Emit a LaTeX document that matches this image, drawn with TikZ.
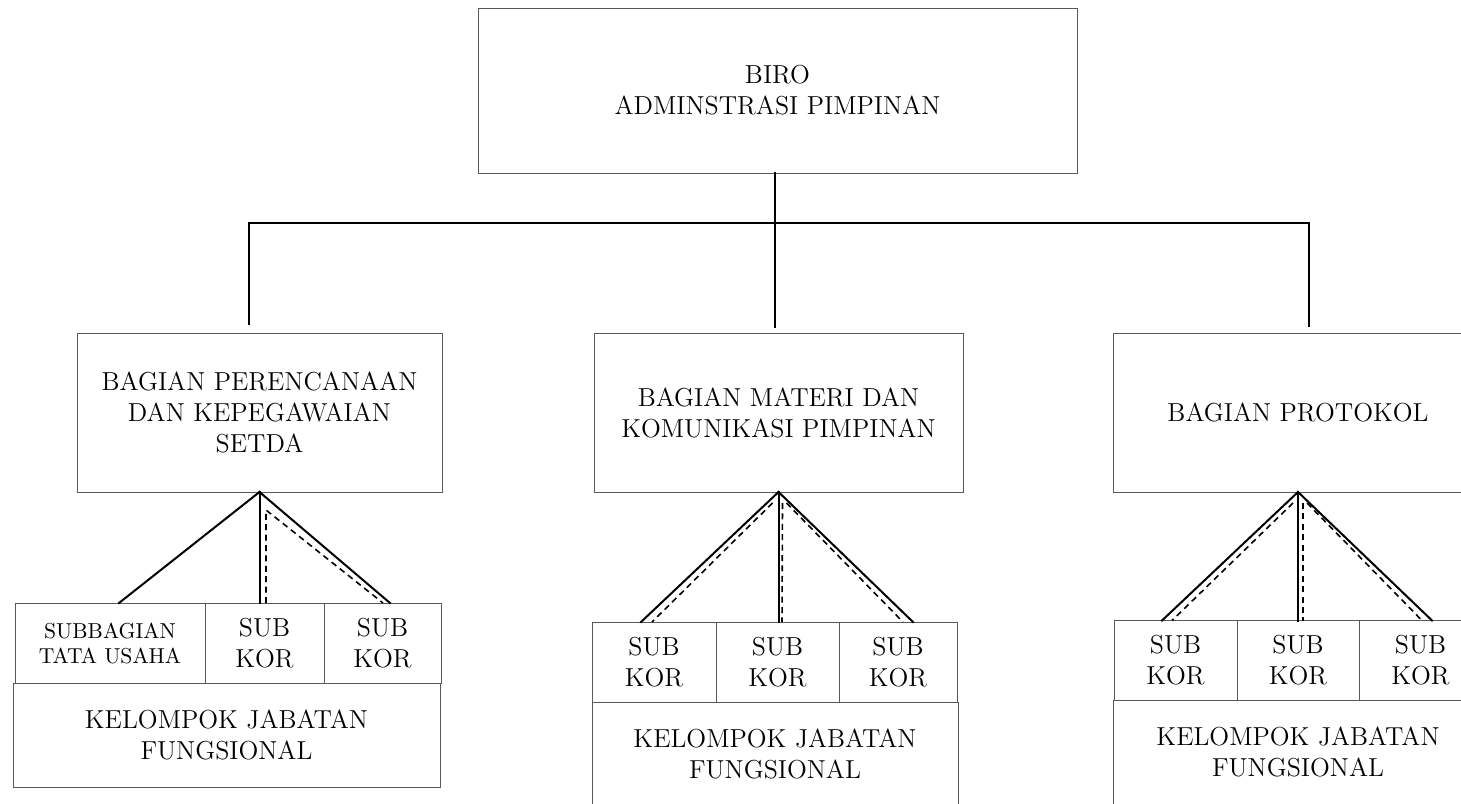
\documentclass[tikz,border=0pt]{standalone}
\usepackage{tikz}
\usetikzlibrary{positioning,calc}

\begin{document}
\begin{tikzpicture}[x=0.5pt, y=-0.5pt,
    box/.style = {draw=black!65, line width=0.5pt, align=center, inner sep=0pt, outer sep=0pt, font=\fontsize{13}{15.5}\selectfont},
    unit/.style = {box, minimum height=79.5pt},
    sub/.style = {box, minimum height=40pt},
    group/.style = {box, minimum height=52pt},
    conn/.style = {line width=1pt, line cap=rect},
    dashline/.style = {line width=0.8pt, dash pattern=on 3pt off 2.2pt}]
    \useasboundingbox (0,0) rectangle (1461,803);

    \node[box, minimum width=299.5pt, minimum height=82.5pt] (biro) at (777.5,90.5) {BIRO\\ADMINSTRASI PIMPINAN};
    \node[unit, minimum width=182.5pt] (perenc)   at (259.5,412.5) {BAGIAN PERENCANAAN\\DAN KEPEGAWAIAN\\SETDA};
    \node[unit, minimum width=184.5pt] (materi)   at (778.5,412.5) {BAGIAN MATERI DAN\\KOMUNIKASI PIMPINAN};
    \node[unit, minimum width=185pt]   (protokol) at (1298,412.5)  {BAGIAN PROTOKOL};

    \node[sub, minimum width=95pt, font=\fontsize{10.8}{12.5}\selectfont] (tu) at (110,643) {SUBBAGIAN\\TATA USAHA};
    \node[sub, minimum width=59.5pt, right=0pt of tu]  (skA) {SUB\\KOR};
    \node[sub, minimum width=58.5pt, right=0pt of skA] (skB) {SUB\\KOR};
    \node[group, minimum width=213.5pt] (kjA) at (226.5,735) {KELOMPOK JABATAN\\FUNGSIONAL};

    \node[sub, minimum width=62pt] (skC) at (654,662) {SUB\\KOR};
    \node[sub, minimum width=61.5pt, right=0pt of skC] (skD) {SUB\\KOR};
    \node[sub, minimum width=59pt,   right=0pt of skD] (skE) {SUB\\KOR};
    \node[group, minimum width=183pt] (kjB) at (775,754) {KELOMPOK JABATAN\\FUNGSIONAL};

    \node[sub, minimum width=61.5pt] (skF) at (1175.5,660.5) {SUB\\KOR};
    \node[sub, minimum width=61pt,   right=0pt of skF] (skG) {SUB\\KOR};
    \node[sub, minimum width=61.5pt, right=0pt of skG] (skH) {SUB\\KOR};
    \node[group, minimum width=185pt] (kjC) at (1298,752) {KELOMPOK JABATAN\\FUNGSIONAL};

    \coordinate (jl) at (249,223);
    \coordinate (jm) at (775,223);
    \coordinate (jr) at (1309,223);
    \draw[conn] (biro.south -| jm) -- (jm);
    \draw[conn] ($(perenc.north -| jl)+(0,-9)$) -- (jl) -- (jr) -- ($(protokol.north -| jr)+(0,-7)$);
    \draw[conn] (jm) -- ($(materi.north -| jm)+(0,-6)$);

    \draw[conn] (perenc.south) -- ($(tu.north)+(9,0)$);
    \draw[conn] (perenc.south) -- (perenc.south |- skA.north);
    \draw[conn] (perenc.south) -- ($(skB.north)+(7.5,0)$);
    \draw[dashline] ($(skA.north)+(1.5,0)$) -- ($(perenc.south)+(6.5,18)$) -- ($(skB.north)+(0.5,0)$);

    \draw[conn] (materi.south) -- ($(skC.north)+(-13,0)$);
    \draw[conn] (materi.south) -- (materi.south |- skD.north);
    \draw[conn] (materi.south) -- ($(skE.north)+(15,0)$);
    \draw[dashline] ($(materi.south)+(-6,11)$) -- ($(skC.north)+(-2,0)$);
    \draw[dashline] ($(materi.south)+(4,11)$)  -- ($(skD.north)+(4.5,0)$);
    \draw[dashline] ($(materi.south)+(8,11)$)  -- ($(skE.north)+(5,0)$);

    \draw[conn] (protokol.south) -- ($(skF.north)+(-13.5,0)$);
    \draw[conn] (protokol.south) -- (protokol.south |- skG.north);
    \draw[conn] (protokol.south) -- ($(skH.north)+(11.5,0)$);
    \draw[dashline] ($(protokol.south)+(-5,11)$) -- ($(skF.north)+(-3.5,0)$);
    \draw[dashline] ($(protokol.south)+(5,11)$)  -- ($(skG.north)+(5,0)$);
    \draw[dashline] ($(protokol.south)+(9,11)$)  -- ($(skH.north)+(1.5,0)$);
\end{tikzpicture}
\end{document}
